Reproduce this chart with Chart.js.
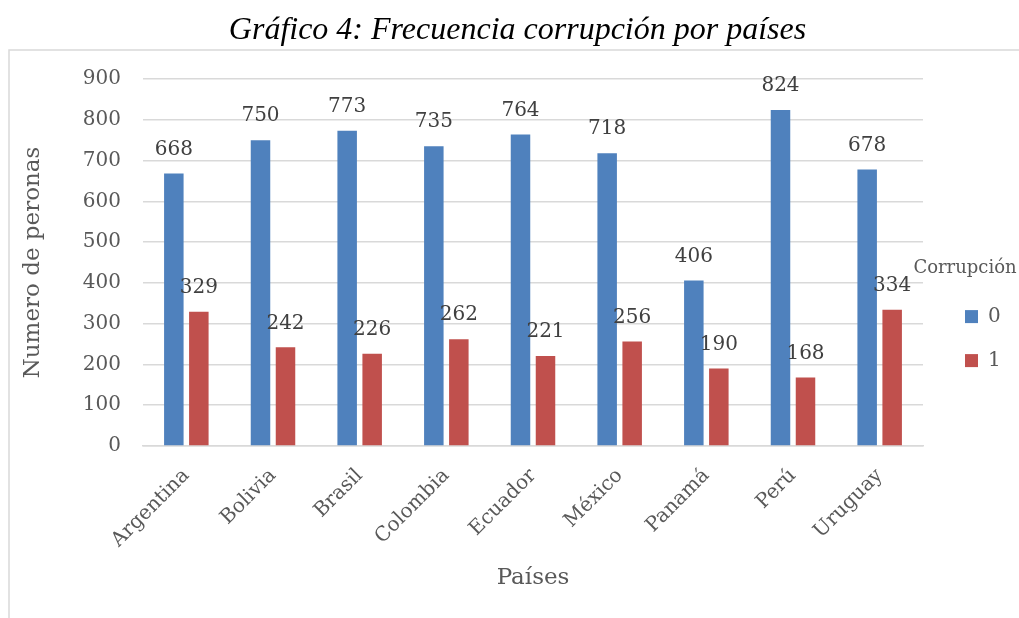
<!DOCTYPE html>
<html lang="es">
<head>
    <meta charset="UTF-8">
    <title>Frecuencia corrupción por países</title>
    <script src="https://cdn.jsdelivr.net/npm/chart.js@4.4.0/dist/chart.umd.min.js"></script>
    <style>
        html, body { margin: 0; padding: 0; background: #fff; }
    </style>
</head>
<body>
    <canvas id="grafico" width="1019" height="618"></canvas>

    <script>
        // Datos
        const paises = ["Argentina", "Bolivia", "Brasil", "Colombia", "Ecuador", "México", "Panamá", "Perú", "Uruguay"];
        const corrupcion0 = [668, 750, 773, 735, 764, 718, 406, 824, 678];
        const corrupcion1 = [329, 242, 226, 262, 221, 256, 190, 168, 334];
        const nombresSerie = ["0", "1"];
        const ejeY = { min: 0, max: 900, paso: 100 };

        const serif = "'DejaVu Serif', serif";
        const gris = "#595959";

        // Marco gris del area del grafico (sale por la derecha y por abajo)
        const marco = {
            id: 'marco',
            beforeDraw(chart) {
                const ctx = chart.ctx;
                ctx.save();
                ctx.strokeStyle = "#d9d9d9";
                ctx.lineWidth = 1.5;
                ctx.beginPath();
                ctx.moveTo(9, chart.height);
                ctx.lineTo(9, 50);
                ctx.lineTo(chart.width, 50);
                ctx.stroke();
                ctx.restore();
            }
        };

        // Etiquetas de valor encima de cada barra
        const etiquetas = {
            id: 'etiquetas',
            afterDatasetsDraw(chart) {
                const ctx = chart.ctx;
                ctx.save();
                ctx.font = "20px " + serif;
                ctx.fillStyle = "#404040";
                ctx.textAlign = "center";
                ctx.textBaseline = "middle";
                chart.data.datasets.forEach((ds, i) => {
                    chart.getDatasetMeta(i).data.forEach((bar, j) => {
                        ctx.fillText(ds.data[j], bar.x, bar.y - 24);
                    });
                });
                ctx.restore();
            }
        };

        // La leyenda reserva 96px a la derecha, pero se dibuja algo mas a la derecha y abajo
        const leyendaPos = {
            id: 'leyendaPos',
            beforeLayout(chart) {
                const lg = chart.legend;
                if (lg && !lg._fijo) {
                    const fit = lg.fit;
                    lg.fit = function () { fit.call(this); this.width = 96; };
                    // sin recorte: el titulo es mas ancho que la caja
                    lg.draw = function () { if (this.options.display) this._draw(); };
                    lg._fijo = true;
                }
            },
            afterLayout(chart) {
                const lg = chart.legend;
                lg.left = 941;
                lg.width = 48;
                lg.right = 989;
                lg.top = 259;
            }
        };

        const config = {
            type: 'bar',
            data: {
                labels: paises,
                datasets: [
                    {
                        label: nombresSerie[0],
                        data: corrupcion0,
                        backgroundColor: "#4f81bd",
                        borderWidth: 0,
                        barPercentage: 0.78,
                        categoryPercentage: 0.577
                    },
                    {
                        label: nombresSerie[1],
                        data: corrupcion1,
                        backgroundColor: "#c0504d",
                        borderWidth: 0,
                        barPercentage: 0.78,
                        categoryPercentage: 0.577
                    }
                ]
            },
            options: {
                responsive: false,
                animation: false,
                layout: { padding: { left: 16, right: 0, top: 0, bottom: 0 } },
                plugins: {
                    title: {
                        display: true,
                        text: "Gráfico 4: Frecuencia corrupción por países",
                        color: "#000",
                        font: { family: "'Liberation Serif', serif", size: 32, style: 'italic', weight: 'normal' },
                        padding: { top: 11, bottom: 29.6 }
                    },
                    legend: {
                        position: 'right',
                        align: 'start',
                        title: {
                            display: true,
                            text: "Corrupción",
                            color: gris,
                            font: { family: serif, size: 18 },
                            padding: { top: 0, bottom: 2 }
                        },
                        labels: {
                            color: gris,
                            font: { family: serif, size: 20 },
                            boxWidth: 13,
                            boxHeight: 13,
                            padding: 24
                        }
                    },
                    tooltip: { enabled: false }
                },
                scales: {
                    x: {
                        grid: { display: false },
                        border: { color: "#d9d9d9", width: 1.5 },
                        ticks: {
                            color: gris,
                            font: { family: serif, size: 20 },
                            minRotation: 45,
                            maxRotation: 45,
                            padding: 10
                        },
                        title: {
                            display: true,
                            text: "Países",
                            color: gris,
                            font: { family: serif, size: 23 },
                            padding: { top: 0, bottom: 26 }
                        },
                        afterFit(scale) { scale.height = 172; }
                    },
                    y: {
                        min: ejeY.min,
                        max: ejeY.max,
                        grid: { color: "#d9d9d9", lineWidth: 1.5, drawTicks: false },
                        border: { display: false },
                        ticks: {
                            stepSize: ejeY.paso,
                            color: gris,
                            font: { family: serif, size: 20 },
                            padding: 22
                        },
                        title: {
                            display: true,
                            text: "Numero de peronas",
                            color: gris,
                            font: { family: serif, size: 23 },
                            padding: { top: 3, bottom: 0 }
                        },
                        afterFit(scale) { scale.width = 127; }
                    }
                }
            },
            plugins: [marco, etiquetas, leyendaPos]
        };

        new Chart(document.getElementById("grafico"), config);
    </script>
</body>
</html>
